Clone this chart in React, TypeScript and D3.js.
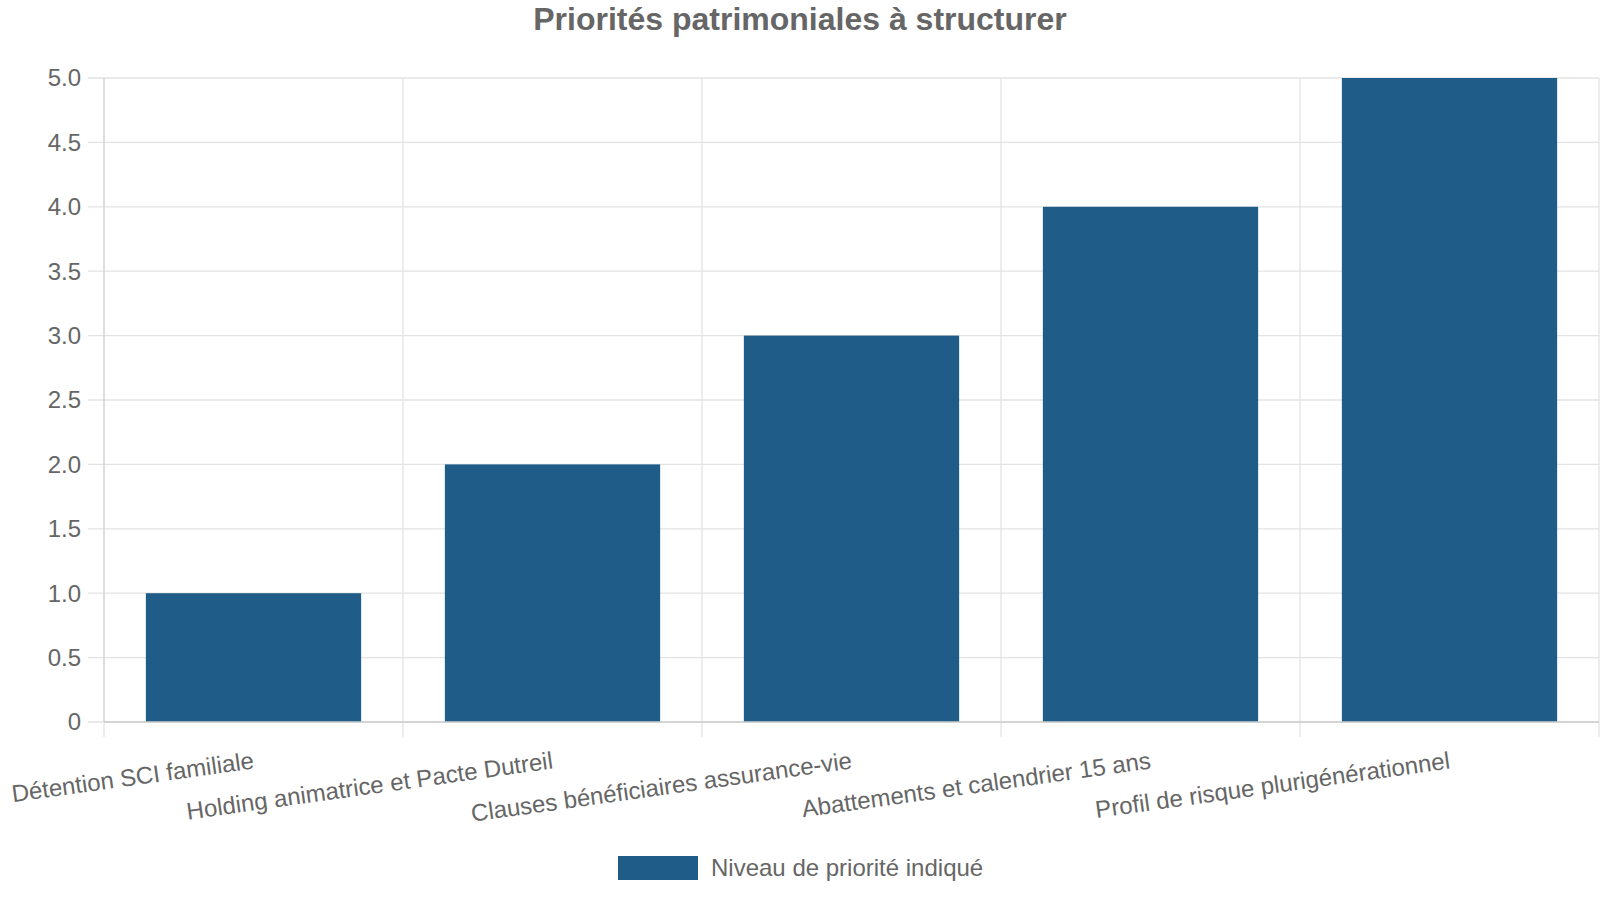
import React from 'react';
import * as d3 from 'd3';

const title = 'Priorités patrimoniales à structurer';
const seriesName = 'Niveau de priorité indiqué';
const categories = [
  'Détention SCI familiale',
  'Holding animatrice et Pacte Dutreil',
  'Clauses bénéficiaires assurance-vie',
  'Abattements et calendrier 15 ans',
  'Profil de risque plurigénérationnel',
];
const values = [1, 2, 3, 4, 5];
const yTicks = [0, 0.5, 1, 1.5, 2, 2.5, 3, 3.5, 4, 4.5, 5];

const W = 1600;
const H = 900;
const FONT = '"Liberation Sans", Arial, sans-serif';
const TEXT = '#666';
const GRID = '#e3e3e3';
const AXIS = '#cccccc';
const BAR = '#1f5c87';

export default function App() {
  const margin = { top: 78, right: 1, bottom: 178, left: 104 };
  const x = d3.scaleBand<string>()
    .domain(categories)
    .range([margin.left, W - margin.right]);
  const y = d3.scaleLinear()
    .domain([0, 5])
    .range([H - margin.bottom, margin.top]);

  const bw = x.bandwidth();
  const barW = bw * 0.72;
  const y0 = y(0);
  const bounds = categories.map(c => x(c) as number).concat([W - margin.right]);
  const fmt = (v: number) => (v === 0 ? '0' : d3.format('.1f')(v));

  return (
    <div style={{ position: 'fixed', left: 0, top: 0 }}>
      <svg width={W} height={H} style={{ display: 'block', fontFamily: FONT }}>
        <rect width={W} height={H} fill="#fff" />
        <text x={W / 2} y={30} textAnchor="middle" fontSize={32} fontWeight="bold" fill={TEXT}>
          {title}
        </text>

        {/* horizontal grid + y ticks */}
        {yTicks.map(t => (
          <g key={t}>
            <line x1={margin.left - 16} x2={W - margin.right} y1={y(t)} y2={y(t)} stroke={GRID} strokeWidth={1.3} />
            <text x={margin.left - 23} y={y(t)} dy="0.35em" textAnchor="end" fontSize={24} fill={TEXT}>
              {fmt(t)}
            </text>
          </g>
        ))}

        {/* vertical grid at band boundaries */}
        {bounds.map((b, i) => (
          <g key={i}>
            <line x1={b} x2={b} y1={margin.top} y2={y0} stroke={i === 0 ? AXIS : GRID} strokeWidth={1.3} />
            <line x1={b} x2={b} y1={y0} y2={y0 + 15} stroke={GRID} strokeWidth={1.3} />
          </g>
        ))}

        {/* bars */}
        {categories.map((c, i) => (
          <rect
            key={c}
            x={(x(c) as number) + (bw - barW) / 2}
            y={y(values[i])}
            width={barW}
            height={y0 - y(values[i])}
            fill={BAR}
          />
        ))}

        <line x1={margin.left} x2={W - margin.right} y1={y0} y2={y0} stroke={AXIS} strokeWidth={1.5} />

        {/* rotated category labels */}
        {categories.map(c => {
          const cx = (x(c) as number) + bw / 2;
          const cy = y0 + 38;
          return (
            <text
              key={c}
              x={cx}
              y={cy}
              dy="0.35em"
              textAnchor="end"
              fontSize={24}
              fill={TEXT}
              transform={`rotate(-8, ${cx}, ${cy})`}
            >
              {c}
            </text>
          );
        })}

        {/* legend */}
        <g transform="translate(618, 856)">
          <rect width={80} height={24} fill={BAR} />
          <text x={93} y={12} dy="0.35em" fontSize={24} fill={TEXT}>{seriesName}</text>
        </g>
      </svg>
    </div>
  );
}
